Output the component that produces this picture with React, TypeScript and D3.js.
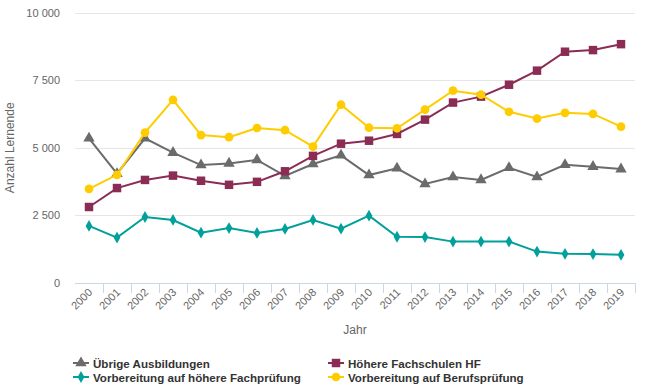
import { useEffect, useRef } from 'react'
import * as d3 from 'd3'

const years = ['2000', '2001', '2002', '2003', '2004', '2005', '2006', '2007', '2008', '2009',
  '2010', '2011', '2012', '2013', '2014', '2015', '2016', '2017', '2018', '2019']

const uebrige = [5350, 4040, 5350, 4820, 4360, 4420, 4550, 3960, 4400, 4720,
  3990, 4240, 3660, 3920, 3810, 4260, 3920, 4370, 4300, 4210]
const hoehereFachschulen = [2810, 3510, 3810, 3970, 3780, 3630, 3740, 4130, 4700, 5150,
  5260, 5510, 6040, 6670, 6890, 7330, 7850, 8550, 8610, 8830]
const fachpruefung = [2110, 1680, 2440, 2330, 1860, 2030, 1850, 2000, 2330, 2010,
  2490, 1710, 1700, 1530, 1530, 1530, 1160, 1080, 1070, 1040]
const berufspruefung = [3480, 4000, 5560, 6770, 5470, 5390, 5730, 5650, 5040, 6590,
  5740, 5720, 6410, 7110, 6960, 6330, 6080, 6290, 6250, 5780]

const yTicks = [0, 2500, 5000, 7500, 10000]

type Series = { name: string, values: number[], color: string, symbol: d3.SymbolType, size: number }

const series: Series[] = [
  { name: 'Übrige Ausbildungen', values: uebrige, color: '#6b6b6b', symbol: d3.symbolTriangle, size: 56 },
  { name: 'Höhere Fachschulen HF', values: hoehereFachschulen, color: '#8b2c55', symbol: d3.symbolSquare, size: 72 },
  { name: 'Vorbereitung auf höhere Fachprüfung', values: fachpruefung, color: '#00a09b', symbol: d3.symbolDiamond, size: 40 },
  { name: 'Vorbereitung auf Berufsprüfung', values: berufspruefung, color: '#ffcc00', symbol: d3.symbolCircle, size: 60 },
]

export default function App() {
  const ref = useRef<SVGSVGElement | null>(null)

  useEffect(() => {
    const el = ref.current
    if (!el) return
    const svg = d3.select(el)
    svg.selectAll('*').remove()

    const font = '"Liberation Sans", Arial, sans-serif'
    const m = { left: 75, right: 635, top: 12.5, bottom: 283 }

    const x = d3.scaleBand<string>().domain(years).range([m.left, m.right])
    const y = d3.scaleLinear().domain([0, 10000]).range([m.bottom, m.top])
    const fmt = (v: number) => d3.format(',')(v).replace(/,/g, ' ')

    // grid + y labels
    const gy = svg.append('g')
    gy.selectAll('line').data(yTicks.filter(t => t > 0)).join('line')
      .attr('x1', m.left).attr('x2', m.right)
      .attr('y1', d => Math.round(y(d)) + 0.5).attr('y2', d => Math.round(y(d)) + 0.5)
      .attr('stroke', '#e6e6e6')
    gy.selectAll('text').data(yTicks).join('text')
      .attr('x', 60).attr('y', d => y(d) + 4)
      .attr('text-anchor', 'end')
      .attr('font-family', font).attr('font-size', 11).attr('fill', '#666')
      .text(fmt)

    // x axis
    const gx = svg.append('g')
    gx.append('line')
      .attr('x1', m.left).attr('x2', m.right)
      .attr('y1', m.bottom + 0.5).attr('y2', m.bottom + 0.5)
      .attr('stroke', '#ccd6eb')
    gx.selectAll('line.tick').data(years).join('line')
      .attr('class', 'tick')
      .attr('x1', d => Math.round((x(d) ?? 0) + x.bandwidth()) + 0.5)
      .attr('x2', d => Math.round((x(d) ?? 0) + x.bandwidth()) + 0.5)
      .attr('y1', m.bottom).attr('y2', m.bottom + 10)
      .attr('stroke', '#ccd6eb')
    gx.selectAll('text').data(years).join('text')
      .attr('transform', d => `translate(${(x(d) ?? 0) + x.bandwidth() / 2 + 4},${m.bottom + 10}) rotate(-45)`)
      .attr('text-anchor', 'end')
      .attr('font-family', font).attr('font-size', 11).attr('fill', '#666')
      .text(d => d)

    // axis titles
    svg.append('text')
      .attr('transform', `translate(14,${(m.top + m.bottom) / 2}) rotate(-90)`)
      .attr('text-anchor', 'middle')
      .attr('font-family', font).attr('font-size', 12).attr('fill', '#666')
      .text('Anzahl Lernende')
    svg.append('text')
      .attr('x', (m.left + m.right) / 2).attr('y', 334)
      .attr('text-anchor', 'middle')
      .attr('font-family', font).attr('font-size', 12).attr('fill', '#666')
      .text('Jahr')

    // series
    const cx = (i: number) => (x(years[i]) ?? 0) + x.bandwidth() / 2
    const line = d3.line<number>().x((_, i) => cx(i)).y(d => y(d))
    series.forEach(s => {
      const g = svg.append('g')
      g.append('path').attr('d', line(s.values)).attr('fill', 'none')
        .attr('stroke', s.color).attr('stroke-width', 2)
      g.selectAll('path.pt').data(s.values).join('path')
        .attr('class', 'pt')
        .attr('transform', (d, i) => `translate(${cx(i)},${y(d)})`)
        .attr('d', d3.symbol().type(s.symbol).size(s.size)())
        .attr('fill', s.color)
    })

    // legend
    const legendPos = [[73, 363], [328, 363], [73, 377], [328, 377]]
    series.forEach((s, i) => {
      const [lx, ly] = legendPos[i]
      const g = svg.append('g').attr('transform', `translate(${lx},${ly})`)
      g.append('line').attr('x1', 0).attr('x2', 16).attr('y1', 0).attr('y2', 0)
        .attr('stroke', s.color).attr('stroke-width', 2)
      g.append('path').attr('transform', 'translate(8,0)')
        .attr('d', d3.symbol().type(s.symbol).size(s.size)()).attr('fill', s.color)
      g.append('text').attr('x', 20).attr('y', 4.5)
        .attr('font-family', font).attr('font-size', 11.6).attr('font-weight', 'bold')
        .attr('fill', '#333').text(s.name)
    })
  }, [])

  return <svg ref={ref} width={647} height={389} style={{ position: 'absolute', left: 0, top: 0, background: '#fff' }} />
}
